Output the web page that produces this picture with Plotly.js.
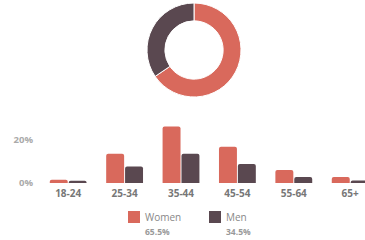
<!DOCTYPE html>
<html><head><meta charset="utf-8">
<script src="https://cdn.plot.ly/plotly-3.0.1.min.js"></script>
<style>html,body{margin:0;padding:0;background:#fff;}#chart{width:365px;height:240px;}</style>
</head><body><div id="chart"></div>
<script>
const categories = ['18-24','25-34','35-44','45-54','55-64','65+'];
const women = [1.5, 13.5, 26.0, 16.7, 6.0, 2.8];
const men = [1.0, 7.6, 13.5, 8.8, 2.8, 1.1];
const genderLabels = ['Women','Men'];
const genderShares = [65.5, 34.5];
const yTickVals = [0, 20];
const yTickText = ['0%', '20%'];

const cWomen = '#d9695c', cMen = '#5a4850';
const W = 365, H = 240, ML = 40, MR = 0, MT = 0, MB = 57;
const PW = W - ML - MR, PH = H - MT - MB;
const px = x => (x - ML) / PW;
const py = y => (H - MB - y) / PH;

const font = "'Open Sans', 'DejaVu Sans', sans-serif";

const traces = [
  {type:'bar', x:categories, y:women, name:genderLabels[0], marker:{color:cWomen}, hoverinfo:'none', showlegend:false},
  {type:'bar', x:categories, y:men, name:genderLabels[1], marker:{color:cMen}, hoverinfo:'none', showlegend:false},
  {type:'pie', labels:genderLabels, values:genderShares, hole:0.62, sort:false, direction:'clockwise', rotation:0,
   marker:{colors:[cWomen, cMen], line:{color:'#fff', width:1}}, textinfo:'none', hoverinfo:'none', showlegend:false,
   domain:{x:[px(147), px(241)], y:[py(97), py(3)]}}
];

const shapes = [], annotations = [];
const legendX = [128, 209];
[cWomen, cMen].forEach((c, i) => {
  shapes.push({type:'rect', xref:'paper', yref:'paper', x0:px(legendX[i]), x1:px(legendX[i]+12), y0:py(223), y1:py(211), fillcolor:c, line:{width:0}, layer:'above'});
  annotations.push({xref:'paper', yref:'paper', x:px(legendX[i]+15), y:py(217), xanchor:'left', yanchor:'middle', showarrow:false,
    text:genderLabels[i], font:{family:font, size:10, color:'#888'}});
  annotations.push({xref:'paper', yref:'paper', x:px(legendX[i]+15), y:py(231), xanchor:'left', yanchor:'middle', showarrow:false,
    text:genderShares[i].toFixed(1) + '%', font:{family:font, size:8.5, color:'#999', weight:'bold'}});
});

const layout = {
  width:W, height:H, margin:{l:ML, r:MR, t:MT, b:MB, pad:0},
  paper_bgcolor:'#fff', plot_bgcolor:'#fff',
  barmode:'group', bargap:0.33, bargroupgap:0.05, barcornerradius:2,
  showlegend:false,
  xaxis:{type:'category', range:[-0.5, -0.5 + PW/56.4], showgrid:false, zeroline:false, showline:false, ticks:'',
    tickfont:{family:font, size:10, color:'#777', weight:'bold'}, ticklabelstandoff:3, fixedrange:true},
  yaxis:{domain:[0, 63/PH], range:[0, 29], tickvals:yTickVals, ticktext:yTickText, showgrid:false, zeroline:false, showline:false, ticks:'',
    tickfont:{family:font, size:9.5, color:'#aaa', weight:'bold'}, ticklabelstandoff:6, fixedrange:true},
  shapes:shapes, annotations:annotations
};

Plotly.newPlot('chart', traces, layout, {staticPlot:true, displayModeBar:false});
</script></body></html>
